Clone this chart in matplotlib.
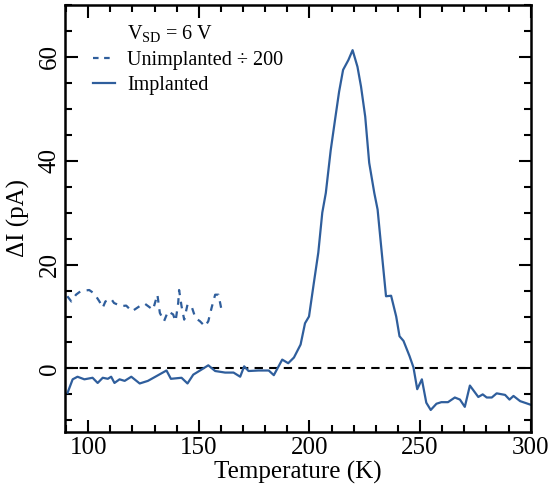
import matplotlib
matplotlib.use("Agg")
import matplotlib.pyplot as plt
from matplotlib.lines import Line2D
from matplotlib.ticker import MultipleLocator

plt.rcParams['font.family'] = ['Liberation Serif', 'DejaVu Serif']
plt.rcParams['mathtext.fontset'] = 'custom'
plt.rcParams['mathtext.rm'] = 'Liberation Serif'

# implanted sample: temperature (K) and current change (pA)
implT = [90.7, 93.0, 95.2, 98.3, 102.0, 104.3, 106.6, 108.9, 110.4, 111.9, 114.2, 116.5,
         119.5, 123.3, 127.0, 130.8, 135.4, 137.4, 142.2, 144.9, 147.5, 151.3, 154.3,
         157.4, 161.9, 165.7, 168.7, 170.5, 172.5, 177.0, 181.6, 183.9, 187.7, 190.4,
         193.0, 196.0, 198.0, 199.8, 202.0, 204.0, 205.8, 207.4, 209.6, 211.6, 213.4,
         215.2, 217.6, 219.5, 221.7, 223.3, 225.2, 227.0, 229.3, 230.8, 232.4, 234.6,
         236.9, 239.2, 240.7, 242.5, 245.2, 247.0, 248.7, 250.8, 252.8, 254.8, 257.4,
         259.6, 262.6, 265.7, 268.0, 270.2, 272.5, 276.3, 278.3, 280.1, 282.4, 284.6,
         288.4, 290.4, 292.2, 295.2, 300.0]
implI = [-4.7, -2.1, -1.6, -2.1, -1.8, -2.8, -1.8, -2.0, -1.6, -2.8, -2.1, -2.4,
         -1.6, -2.9, -2.4, -1.5, -0.4, -2.0, -1.8, -2.9, -1.2, -0.2, 0.6,
         -0.5, -0.8, -0.8, -1.6, 0.4, -0.5, -0.4, -0.4, -1.3, 1.7, 1.0,
         2.1, 4.6, 8.7, 10.0, 16.5, 22.3, 30.0, 33.8, 42.0, 48.0, 53.3,
         57.5, 59.4, 61.3, 58.1, 54.3, 48.5, 39.6, 33.8, 30.6, 23.5, 13.9,
         14.0, 10.0, 6.2, 5.3, 2.4, 0.2, -4.0, -2.1, -6.6, -8.0, -6.8,
         -6.5, -6.5, -5.6, -6.0, -7.4, -3.3, -5.5, -5.0, -5.6, -5.6, -4.8,
         -5.1, -6.0, -5.3, -6.3, -7.0]

# unimplanted sample divided by 200
unimpT = [90.6, 92.4, 94.5, 96.7, 100.5, 102.8, 105.1, 106.6, 107.8, 110.4, 111.7,
          114.9, 117.2, 119.8, 123.3, 125.5, 129.3, 131.3, 132.4, 134.3, 136.1, 138.4,
          139.5, 140.7, 141.1, 142.2, 143.4, 144.9, 146.7, 148.5, 150.5, 152.8, 154.3,
          155.8, 157.4, 158.9, 160.4]
unimpI = [13.9, 12.9, 14.2, 14.9, 15.1, 14.4, 12.9, 11.7, 12.9, 13.4, 12.6,
          12.0, 12.1, 11.0, 12.0, 12.5, 11.3, 14.2, 10.7, 9.1, 11.0, 10.4,
          9.1, 12.6, 15.1, 12.0, 9.4, 12.3, 12.0, 9.7, 9.1, 8.1, 9.1,
          11.7, 14.2, 14.2, 11.0]

blue = '#2f5e9c'

fig = plt.figure(figsize=(5.5, 4.98), dpi=100)
ax = fig.add_axes([0.118, 0.133, 0.847, 0.857])

ax.axhline(0, color='black', lw=1.5, ls=(0, (4, 3)))
ax.plot(unimpT, unimpI, color=blue, lw=1.6, ls=(0, (3, 3)))
ax.plot(implT, implI, color=blue, lw=1.6)

ax.set_xlim(89.5, 300)
ax.set_ylim(-12.2, 70)
ax.xaxis.set_major_locator(MultipleLocator(50))
ax.xaxis.set_minor_locator(MultipleLocator(10))
ax.yaxis.set_major_locator(MultipleLocator(20))
ax.yaxis.set_minor_locator(MultipleLocator(5))
ax.tick_params(which='both', direction='in', top=True, right=True, width=1.5, labelsize=18)
ax.tick_params(which='major', length=9)
ax.tick_params(which='minor', length=5)
ax.tick_params(axis='y', labelrotation=90, pad=3)
for lab in ax.get_yticklabels():
    lab.set_va('center')
for s in ax.spines.values():
    s.set_linewidth(1.8)

ax.set_xlabel('Temperature (K)', fontsize=18, labelpad=2)
ax.set_ylabel('ΔI (pA)', fontsize=18, labelpad=6)

handles = [Line2D([], [], color='none'),
           Line2D([], [], color=blue, lw=1.6, ls=(0, (2.5, 2.5))),
           Line2D([], [], color=blue, lw=1.6)]
labels = ['V$_{\\mathrm{SD}}$ = 6 V', 'Unimplanted ÷ 200', 'Implanted']
ax.legend(handles, labels, loc='upper left', frameon=False, fontsize=14.5,
          handlelength=1.1, handletextpad=0.6, labelspacing=0.3,
          borderaxespad=0.3, bbox_to_anchor=(0.03, 0.99))

fig.savefig('out.png', dpi=100)
